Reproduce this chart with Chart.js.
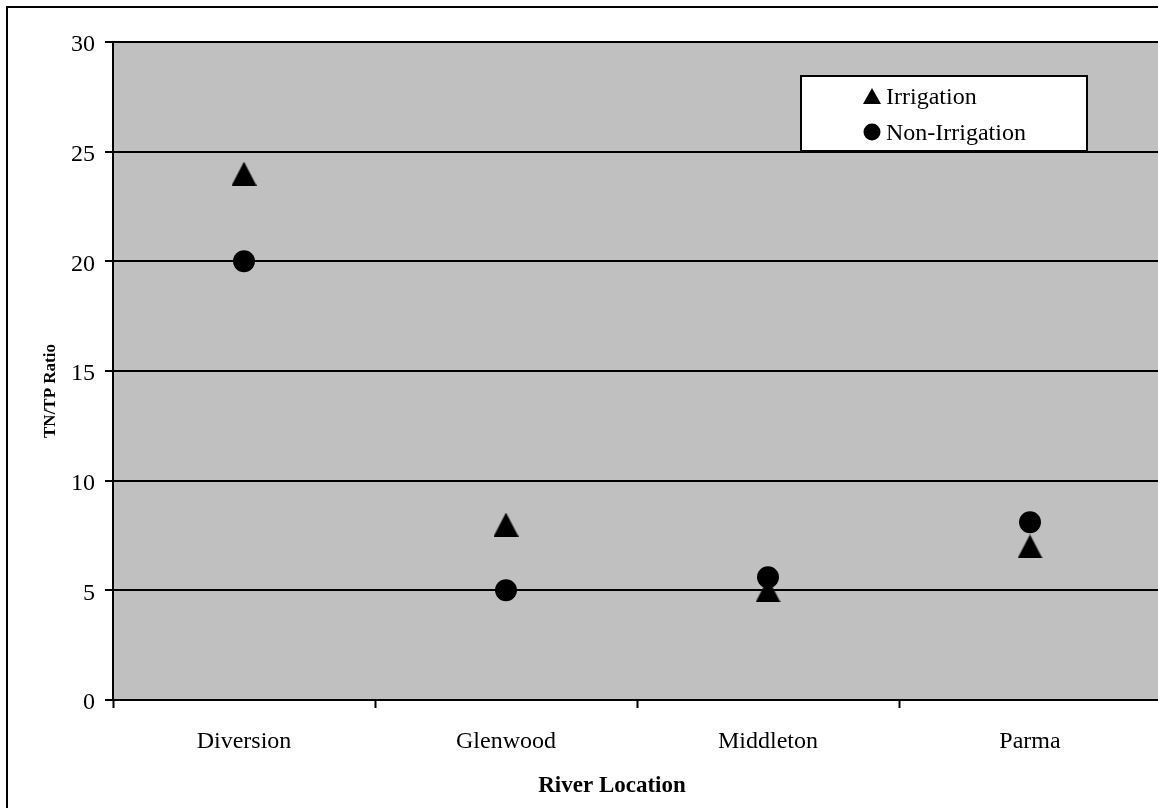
<!DOCTYPE html>
<html>
<head>
<meta charset="utf-8">
<title>TN/TP Ratio by River Location</title>
<script src="https://cdn.jsdelivr.net/npm/chart.js@4.4.1/dist/chart.umd.min.js"></script>
<style>
  html, body { margin: 0; padding: 0; background: #fff; overflow: hidden; }
  #wrap { position: absolute; left: 0; top: 0; width: 1166px; height: 808px; }
  #chart { display: block; }
</style>
</head>
<body>
<div id="wrap"><canvas id="chart" width="1166" height="808"></canvas></div>
<script>
// River locations along the x axis
const locations = ['Diversion', 'Glenwood', 'Middleton', 'Parma'];
// TN/TP ratio during the irrigation season
const irrigation = [24, 8, 5, 7];
// TN/TP ratio outside the irrigation season
const nonIrrigation = [20, 5, 5.6, 8.1];
// Value axis range and step
const yMin = 0;
const yMax = 30;
const yStep = 5;

const SERIF = "'Liberation Serif', 'Times New Roman', serif";

// Solid triangle marker, centred on its bounding box
function triangleMarker(w, h) {
  const c = document.createElement('canvas');
  c.width = w; c.height = h;
  const g = c.getContext('2d');
  g.fillStyle = '#000';
  g.beginPath();
  g.moveTo(w / 2, 0);
  g.lineTo(w, h);
  g.lineTo(0, h);
  g.closePath();
  g.fill();
  return c;
}

const triangle = triangleMarker(25, 24);

// Grey plot background and the outer frame
const backdrop = {
  id: 'backdrop',
  beforeDraw(chart) {
    const { ctx, chartArea: a } = chart;
    ctx.save();
    ctx.fillStyle = '#c0c0c0';
    ctx.fillRect(a.left, a.top, a.right - a.left, a.bottom - a.top);
    ctx.strokeStyle = '#000';
    ctx.lineWidth = 2;
    ctx.beginPath();
    ctx.moveTo(7, 820);
    ctx.lineTo(7, 7);
    ctx.lineTo(1200, 7);
    ctx.stroke();
    ctx.restore();
  }
};

// Axis titles
const axisTitles = {
  id: 'axisTitles',
  afterDraw(chart) {
    const { ctx } = chart;
    ctx.save();
    ctx.fillStyle = '#000';
    ctx.font = 'bold 23px ' + SERIF;
    ctx.textAlign = 'center';
    ctx.textBaseline = 'alphabetic';
    ctx.fillText('River Location', 612, 792);
    ctx.translate(55, 391);
    ctx.rotate(-Math.PI / 2);
    ctx.font = 'bold 17px ' + SERIF;
    ctx.fillText('TN/TP Ratio', 0, 0);
    ctx.restore();
  }
};

// Boxed legend inside the plot area
const boxLegend = {
  id: 'boxLegend',
  afterDraw(chart) {
    const { ctx } = chart;
    const x0 = 801, y0 = 76, x1 = 1087, y1 = 151;
    ctx.save();
    ctx.fillStyle = '#fff';
    ctx.fillRect(x0, y0, x1 - x0, y1 - y0);
    ctx.strokeStyle = '#000';
    ctx.lineWidth = 2;
    ctx.strokeRect(x0, y0, x1 - x0, y1 - y0);
    ctx.fillStyle = '#000';
    chart.data.datasets.forEach((ds, i) => {
      const cy = 96 + i * 36;
      const cx = 872;
      ctx.beginPath();
      if (i === 0) {
        ctx.moveTo(cx, cy - 8);
        ctx.lineTo(cx + 9, cy + 8);
        ctx.lineTo(cx - 9, cy + 8);
        ctx.closePath();
      } else {
        ctx.arc(cx, cy, 8.5, 0, Math.PI * 2);
      }
      ctx.fill();
      ctx.font = '24px ' + SERIF;
      ctx.textAlign = 'left';
      ctx.textBaseline = 'alphabetic';
      ctx.fillText(ds.label, 886, cy + 8);
    });
    ctx.restore();
  }
};

new Chart(document.getElementById('chart'), {
  type: 'line',
  data: {
    labels: locations,
    datasets: [
      {
        label: 'Irrigation',
        data: irrigation,
        showLine: false,
        pointStyle: triangle,
        pointRadius: 12,
        pointHoverRadius: 12,
        pointBorderWidth: 0,
        backgroundColor: '#000',
        borderColor: '#000'
      },
      {
        label: 'Non-Irrigation',
        data: nonIrrigation,
        showLine: false,
        pointStyle: 'circle',
        pointRadius: 11,
        pointHoverRadius: 11,
        pointBorderWidth: 0,
        backgroundColor: '#000',
        borderColor: '#000'
      }
    ]
  },
  options: {
    responsive: false,
    maintainAspectRatio: false,
    devicePixelRatio: 1,
    animation: false,
    events: [],
    // the plot area runs a few pixels past the right edge of the page
    layout: { autoPadding: false, padding: { top: 42, left: 0, right: 5, bottom: 0 } },
    plugins: {
      legend: { display: false },
      tooltip: { enabled: false },
      title: { display: false }
    },
    scales: {
      x: {
        type: 'category',
        offset: true,
        afterFit(scale) {
          scale.height = 108;
          scale.paddingLeft = 0;
          scale.paddingRight = 0;
        },
        grid: {
          offset: true,
          drawOnChartArea: false,
          drawTicks: true,
          tickLength: 8,
          tickColor: '#000',
          tickWidth: 2
        },
        border: { display: true, color: '#000', width: 2 },
        ticks: {
          color: '#000',
          padding: 19,
          maxRotation: 0,
          font: { family: SERIF, size: 24 }
        }
      },
      y: {
        min: yMin,
        max: yMax,
        afterFit(scale) { scale.width = 113; },
        grid: {
          color: '#000',
          lineWidth: 2,
          drawTicks: true,
          tickLength: 8,
          tickColor: '#000',
          tickWidth: 2
        },
        border: { display: true, color: '#000', width: 2 },
        ticks: {
          stepSize: yStep,
          color: '#000',
          padding: 10,
          labelOffset: 3,
          font: { family: SERIF, size: 24 }
        }
      }
    }
  },
  plugins: [backdrop, axisTitles, boxLegend]
});
</script>
</body>
</html>
